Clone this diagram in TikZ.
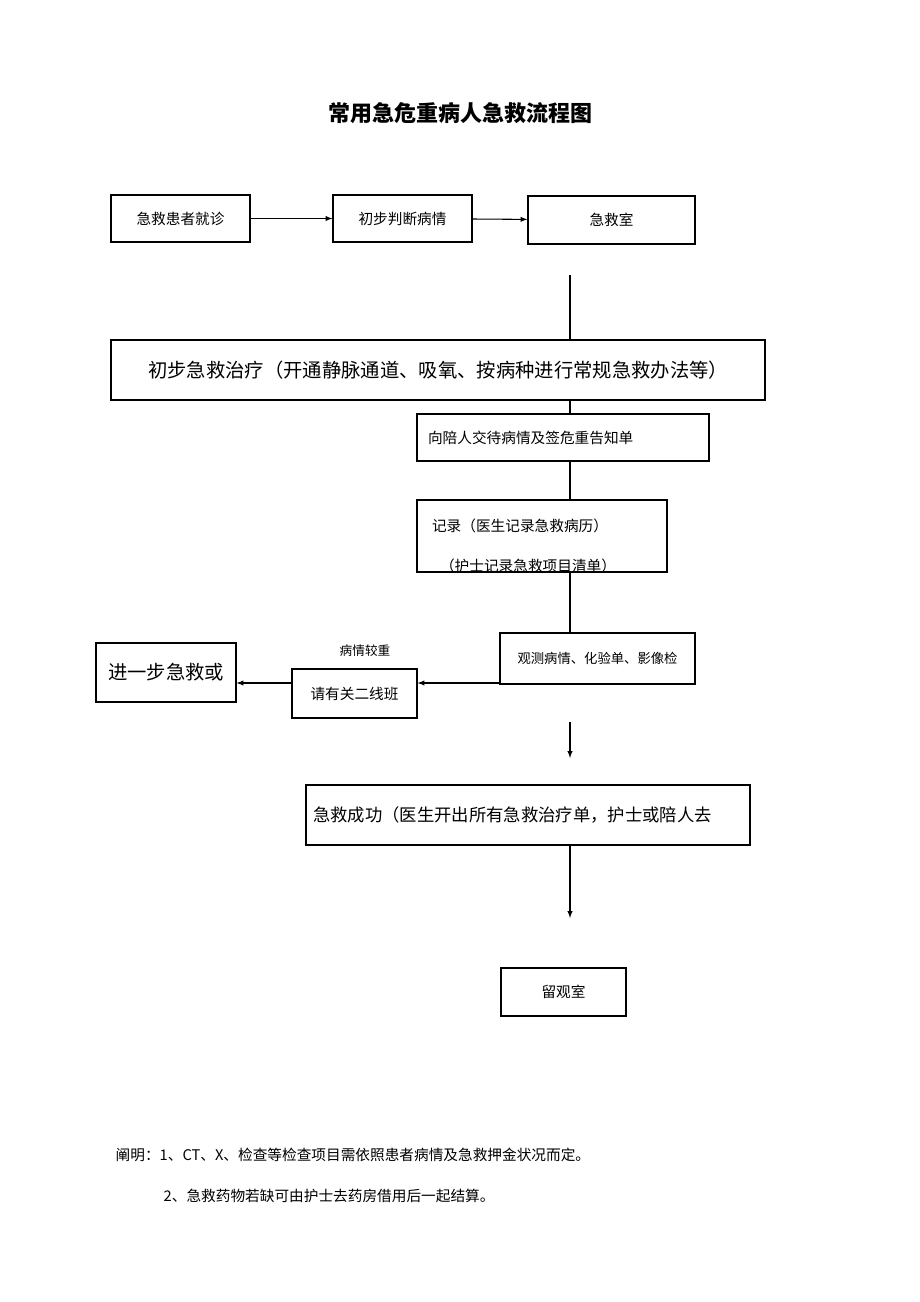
\documentclass[tikz,border=0pt]{standalone}
\usepackage{fontspec}
\setmainfont{Liberation Serif}
\newfontfamily\cjk{Noto Sans CJK SC}
\usetikzlibrary{positioning,calc,arrows}

\begin{document}
\begin{tikzpicture}[
  x=0.75pt,y=-0.75pt,
  every node/.style={font=\cjk\fontsize{11}{13}\selectfont},
  box/.style={draw,line width=0.8pt,inner sep=0pt},
  big/.style={font=\cjk\fontsize{14.5}{17}\selectfont},
  flow/.style={draw,line width=0.8pt,-latex},
  ]
  \useasboundingbox (0,0) rectangle (920,1302);

  \node [font=\cjk\bfseries\fontsize{16.5}{20}\selectfont] (title) at (460,113) {常用急危重病人急救流程图};

  \node [box,minimum width=139pt*0.75,minimum height=47pt*0.75] (visit) at (180.5,218.5) {急救患者就诊};
  \node [box,minimum width=139pt*0.75,minimum height=47pt*0.75] (judge) at (402.5,218.5) {初步判断病情};
  \node [box,minimum width=167pt*0.75,minimum height=48pt*0.75] (room) at (611.5,220) {急救室};
  \draw [flow] (visit) -- (judge);
  \draw [flow] (judge) -- (room);

  \node [box,big,minimum width=654pt*0.75,minimum height=60pt*0.75] (first) at (438,370) {初步急救治疗（开通静脉通道、吸氧、按病种进行常规急救办法等）};
  \coordinate (top) at (570,275);
  \draw [line width=0.8pt] (top) -- (first.north -| top);

  \node [box,minimum width=292pt*0.75,minimum height=47pt*0.75,text width=270pt*0.75] (tell) at (563,437.5) {向陪人交待病情及签危重告知单};
  \draw [line width=0.8pt] (first.south -| top) -- (tell.north -| top);

  \draw [line width=0.8pt] (417,500) rectangle (667,572);
  \coordinate (rec) at (542,536);
  \node (rec1) at (520,526) {记录（医生记录急救病历）};
  \begin{scope}
    \clip (417,500) rectangle (667,571);
    \node (rec2) at (528,566) {（护士记录急救项目清单）};
  \end{scope}
  \draw [line width=0.8pt] (tell.south -| top) -- (570,500);

  \node [box,minimum width=195pt*0.75,minimum height=51pt*0.75,font=\cjk\fontsize{10}{12}\selectfont] (watch) at (597.5,658.5) {观测病情、化验单、影像检};
  \draw [line width=0.8pt] (570,572) -- (watch.north -| top);

  \node [box,minimum width=125pt*0.75,minimum height=49pt*0.75] (second) at (354.5,693.5) {请有关二线班};
  \node [font=\cjk\fontsize{9.5}{11}\selectfont] (severe) at (365,651) {病情较重};
  \node [box,big,minimum width=140pt*0.75,minimum height=59pt*0.75] (further) at (166,672.5) {进一步急救或};
  \draw [flow] (watch.west |- 0,683) -- (second.east |- 0,683);
  \draw [flow] (second.west |- 0,683) -- (further.east |- 0,683);

  \coordinate (gap) at (570,722);
  \draw [flow] (gap) -- (570,758);

  \node [box,minimum width=444pt*0.75,minimum height=60pt*0.75,font=\cjk\fontsize{13}{15}\selectfont,text width=430pt*0.75,align=left] (success) at (528,815) {急救成功（医生开出所有急救治疗单，护士或陪人去};
  \node [box,minimum width=125pt*0.75,minimum height=48pt*0.75] (obs) at (563.5,992) {留观室};
  \draw [flow] (success.south -| top) -- (570,918);

  \node [anchor=west] (note1) at (111,1155) {阐明：1、CT、X、检查等检查项目需依照患者病情及急救押金状况而定。};
  \node [anchor=west] (note2) at (159,1196) {2、急救药物若缺可由护士去药房借用后一起结算。};
\end{tikzpicture}
\end{document}
